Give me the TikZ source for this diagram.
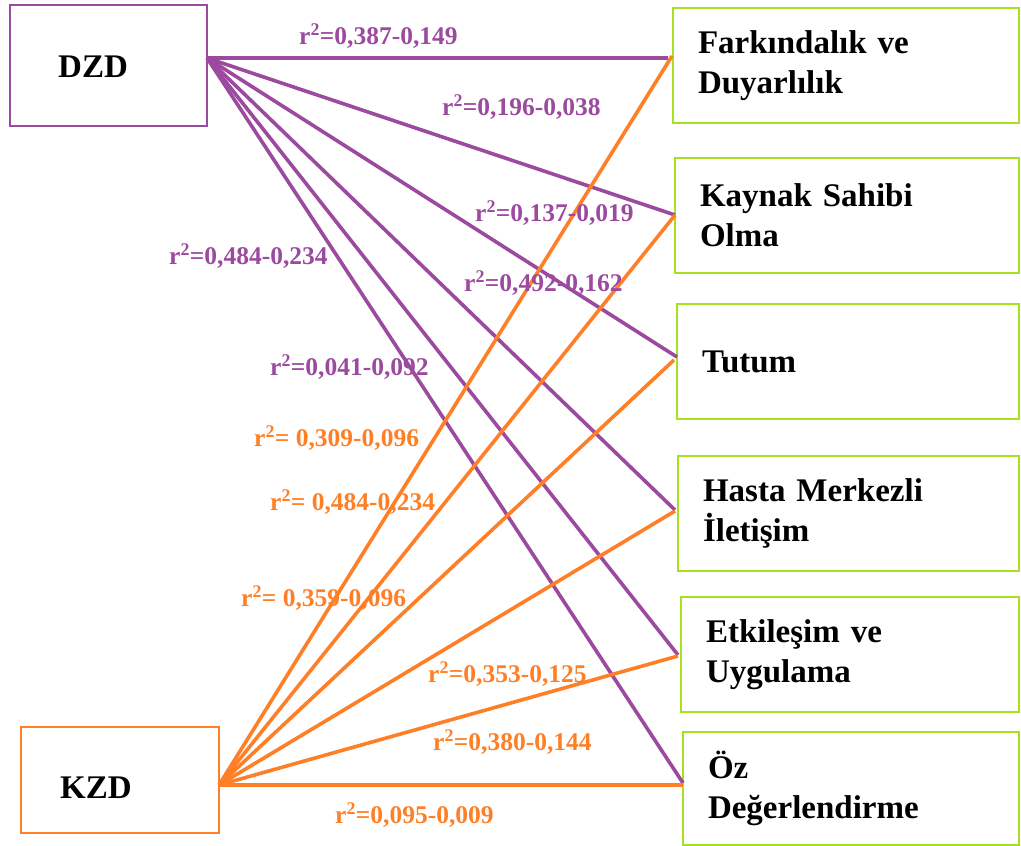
\documentclass[tikz,border=0pt]{standalone}
\usepackage{fontspec}
\setmainfont{Liberation Serif}
\definecolor{dzdpurple}{HTML}{9C4A9F}
\definecolor{kzdorange}{HTML}{FF7F27}
\definecolor{goalgreen}{HTML}{A6E01E}
\begin{document}
\begin{tikzpicture}[x=1pt, y=-1pt]

\useasboundingbox (0,0) rectangle (1021,846);

\def\boxright{1019};
\def\boxpad{25};
\tikzset{
    goal box/.style={
        rectangle,
        draw=goalgreen,
        line width=2.8pt,
        inner xsep=\boxpad pt,
        align=left,
        font=\fontsize{33}{40}\selectfont\bfseries
    },
    source box/.style={
        rectangle,
        line width=2.6pt,
        draw=#1
    },
    source text/.style={
        anchor=west,
        inner sep=0pt,
        font=\fontsize{33}{40}\selectfont\bfseries
    },
    r label/.style={
        anchor=west,
        inner sep=0pt,
        text=#1,
        font=\fontsize{25.5}{28}\selectfont\bfseries
    },
    dzd line/.style={draw=dzdpurple, line width=3.6pt},
    kzd line/.style={draw=kzdorange, line width=3.6pt}
}

% sources
\node[source box=dzdpurple, minimum width=197pt, minimum height=121pt] (dzd) at (108.5,65.5) {};
\node[source text] (dzdtext) at (58,67) {DZD};
\node[source box=kzdorange, minimum width=198pt, minimum height=106pt] (kzd) at (120,780) {};
\node[source text] (kzdtext) at (60,788) {KZD};
\coordinate (dzdout) at (207,58);
\coordinate (kzdout) at (219,785);

% goals
\foreach \x/\t/\b/\dx/\dy/\kx/\ky/\txt [count=\i] in {
    673/8/123/668/58/672/56/{Farkındalık ve\\Duyarlılık},
    675/158/273/675/215/675/215/{Kaynak Sahibi\\Olma},
    677/304/419/677/357/674/360/{Tutum},
    678/456/571/675/510/675/511/{Hasta Merkezli\\İletişim},
    681/597/712/678/655/678/656/{Etkileşim ve\\Uygulama},
    683/732/845/683/783/683/785/{Öz\\Değerlendirme}} {
    \pgfmathsetmacro\bw{\boxright-\x}
    \pgfmathsetmacro\bh{\b-\t}
    \pgfmathsetmacro\tw{\bw-2*\boxpad}
    \node[goal box, minimum width=\bw pt, minimum height=\bh pt,
        text width=\tw pt] (g\i) at ({(\x+\boxright)/2},{(\t+\b)/2}) {\txt};
    \coordinate (d\i) at (\dx,\dy);
    \coordinate (k\i) at (\kx,\ky);
}

\foreach \i in {1,...,6} {
    \path[dzd line] (dzdout) -- (d\i);
}
\foreach \i in {1,...,6} {
    \path[kzd line] (kzdout) -- (k\i);
}

% r-square labels
\foreach \lx/\ly/\val [count=\i] in {
    299/36/{=0,387-0,149}, 442/107/{=0,196-0,038}, 475/213/{=0,137-0,019},
    169/256/{=0,484-0,234}, 464/283/{=0,492-0,162}, 270/367/{=0,041-0,092}} {
    \node[r label=dzdpurple] (dl\i) at (\lx,\ly) {r\textsuperscript{2}\val};
}
\foreach \lx/\ly/\val [count=\i] in {
    254/438/{= 0,309-0,096}, 270/502/{= 0,484-0,234}, 241/598/{= 0,359-0,096},
    428/674/{=0,353-0,125}, 433/742/{=0,380-0,144}, 335/815/{=0,095-0,009}} {
    \node[r label=kzdorange] (kl\i) at (\lx,\ly) {r\textsuperscript{2}\val};
}
\end{tikzpicture}
\end{document}
